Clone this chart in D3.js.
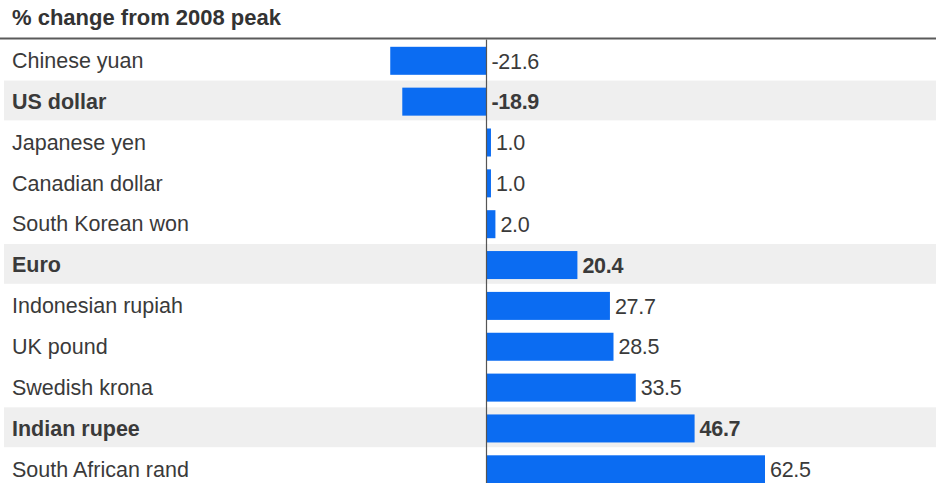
<!DOCTYPE html>
<html>
<head>
<meta charset="utf-8">
<script src="https://cdn.jsdelivr.net/npm/d3@7"></script>
<style>
  html, body { margin: 0; padding: 0; background: #fff; }
  svg { display: block; font-family: "Liberation Sans", Arial, Helvetica, sans-serif; }
</style>
</head>
<body>
<svg id="chart" width="936" height="483"></svg>
<script>
// Currency moves since the 2008 peak, in percent
const currencies = [
  "Chinese yuan", "US dollar", "Japanese yen", "Canadian dollar",
  "South Korean won", "Euro", "Indonesian rupiah", "UK pound",
  "Swedish krona", "Indian rupee", "South African rand"
];
const changes = [-21.6, -18.9, 1.0, 1.0, 2.0, 20.4, 27.7, 28.5, 33.5, 46.7, 62.5];
const highlighted = ["US dollar", "Euro", "Indian rupee"];
const title = "% change from 2008 peak";

const rows = currencies.map((name, i) => ({
  name,
  value: changes[i],
  bold: highlighted.includes(name)
}));

const svg = d3.select("#chart");
const W = 936;
const rowH = 40.85;
const rowsTop = 39.2;

const y = d3.scaleBand()
  .domain(currencies)
  .range([rowsTop, rowsTop + rowH * currencies.length])
  .paddingInner(0)
  .paddingOuter(0);

const x = d3.scaleLinear()
  .domain([0, 62.5])
  .range([486.5, 765]);

// shaded rows for highlighted currencies
svg.append("g").selectAll("rect")
  .data(rows.filter(d => d.bold))
  .join("rect")
  .attr("x", 4)
  .attr("y", d => y(d.name) + 0.5)
  .attr("width", W - 4)
  .attr("height", y.bandwidth() - 1)
  .attr("fill", "#efefef");

// title and rule
svg.append("text")
  .attr("x", 12)
  .attr("y", 25)
  .attr("font-size", 22)
  .attr("font-weight", "bold")
  .attr("fill", "#333")
  .text(title);

svg.append("line")
  .attr("x1", 0).attr("x2", W)
  .attr("y1", 38.5).attr("y2", 38.5)
  .attr("stroke", "#5a5a5a")
  .attr("stroke-width", 2);

// bars
const barH = 28;
const barOff = 7.6;
svg.append("g").selectAll("rect")
  .data(rows)
  .join("rect")
  .attr("x", d => x(Math.min(0, d.value)))
  .attr("y", d => y(d.name) + barOff)
  .attr("width", d => Math.abs(x(d.value) - x(0)))
  .attr("height", barH)
  .attr("fill", "#0b6cf2");

// zero line
svg.append("line")
  .attr("x1", x(0)).attr("x2", x(0))
  .attr("y1", 39.5).attr("y2", 483)
  .attr("stroke", "#555")
  .attr("stroke-width", 1.2);

// category labels
svg.append("g").selectAll("text")
  .data(rows)
  .join("text")
  .attr("x", 12)
  .attr("y", d => y(d.name) + 28.8)
  .attr("font-size", 21.5)
  .attr("font-weight", d => d.bold ? "bold" : "normal")
  .attr("fill", "#3a3a3a")
  .text(d => d.name);

// value labels
svg.append("g").selectAll("text")
  .data(rows)
  .join("text")
  .attr("x", d => x(Math.max(0, d.value)) + 5)
  .attr("y", d => y(d.name) + 29.3)
  .attr("font-size", 21.5)
  .attr("font-weight", d => d.bold ? "bold" : "normal")
  .attr("fill", "#3a3a3a")
  .attr("letter-spacing", -0.3)
  .text(d => d.value.toFixed(1));
</script>
</body>
</html>
